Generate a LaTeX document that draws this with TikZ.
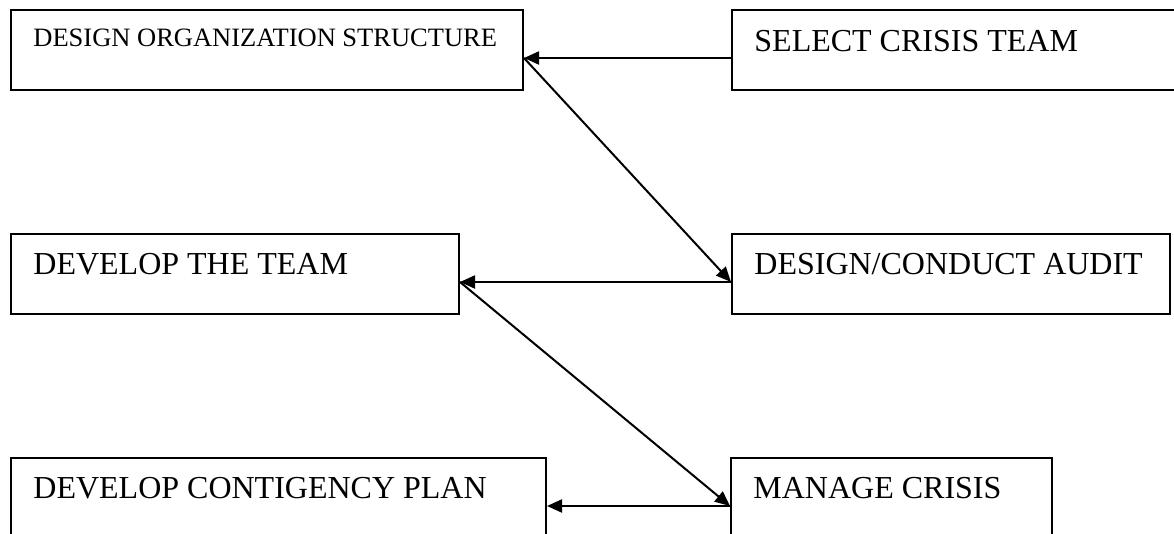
\documentclass[tikz,border=0pt]{standalone}
\usepackage{fontspec}
\setmainfont{Liberation Serif}
\usetikzlibrary{arrows.meta,fit}
\begin{document}
\begin{tikzpicture}[x=0.5pt,y=-0.5pt,
  box/.style={draw,line width=1pt,inner sep=0pt},
  lbl/.style={anchor=base west,inner sep=0pt,font=\fontsize{16pt}{19pt}\selectfont},
  lblsmall/.style={anchor=base west,inner sep=0pt,font=\fontsize{13.25pt}{16pt}\selectfont},
  arr/.style={line width=1pt,-{Triangle[length=7.5pt,width=6.5pt]}}]
\useasboundingbox (0,0) rectangle (1174,534);
\begin{scope}
\clip (0,0) rectangle (1174,534);
\node[box,fit={(11,10)(523,90)}] (b1) {};
\node[box,fit={(732,10)(1190,90)}] (b2) {};
\node[box,fit={(11,234)(459,314)}] (b3) {};
\node[box,fit={(732,234)(1170,314)}] (b4) {};
\node[box,fit={(11,458)(546,560)}] (b5) {};
\node[box,fit={(731,458)(1052,560)}] (b6) {};
\node[lblsmall] (t1) at (33,47) {DESIGN ORGANIZATION STRUCTURE};
\node[lbl] (t2) at (754,52) {SELECT CRISIS TEAM};
\node[lbl] (t3) at (33,275) {DEVELOP THE TEAM};
\node[lbl] (t4) at (754,275) {DESIGN/CONDUCT AUDIT};
\node[lbl] (t5) at (33,499) {DEVELOP CONTIGENCY PLAN};
\node[lbl] (t6) at (753,499) {MANAGE CRISIS};
\coordinate (c1) at (b1.east |- 0,58);
\coordinate (c2) at (b2.west |- 0,58);
\coordinate (c3) at (b3.east |- 0,282);
\coordinate (c4) at (b4.west |- 0,282);
\coordinate (c5) at (b5.east |- 0,506);
\coordinate (c6) at (b6.west |- 0,506);
\draw[arr] (c2) -- (c1);
\draw[arr] (c1) -- (c4);
\draw[arr] (c4) -- (c3);
\draw[arr] (c3) -- (c6);
\draw[arr] (c6) -- (c5);
\end{scope}
\end{tikzpicture}
\end{document}
